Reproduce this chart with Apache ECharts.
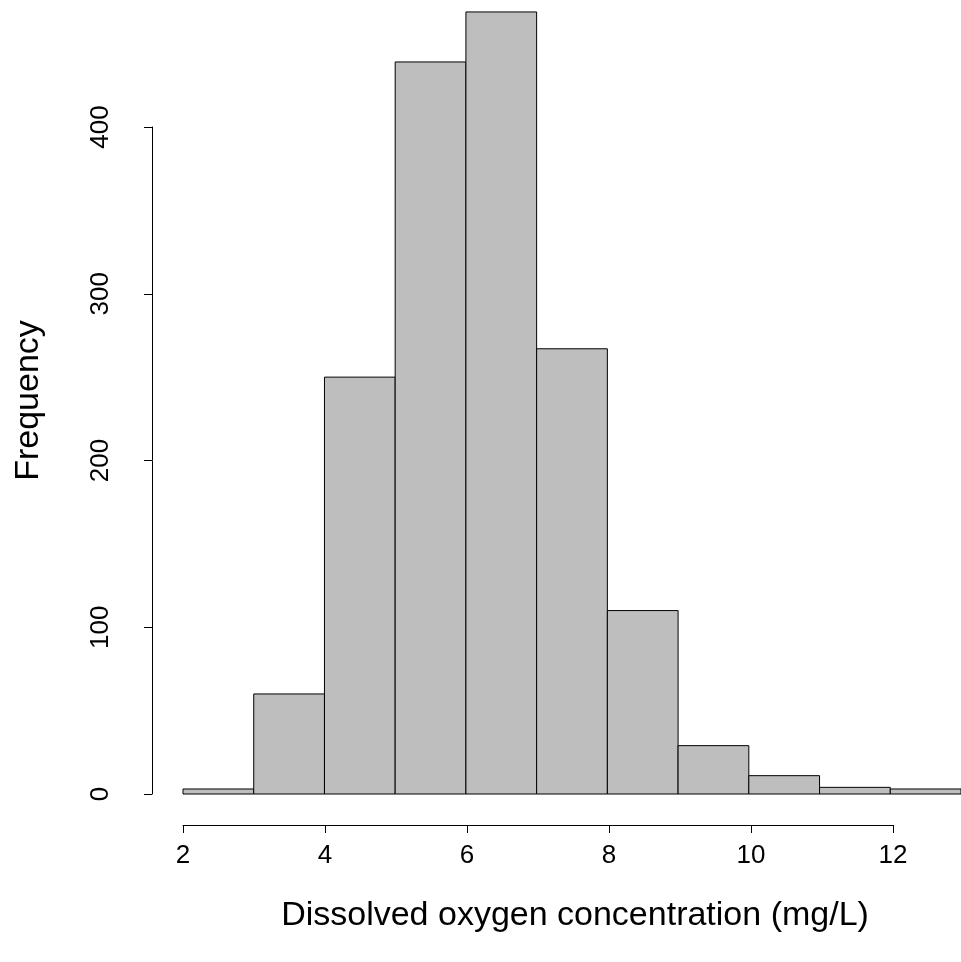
<!DOCTYPE html>
<html>
<head>
<meta charset="utf-8">
<script src="https://cdn.jsdelivr.net/npm/echarts@6/dist/echarts.min.js"></script>
<style>
  html, body { margin: 0; padding: 0; background: #fff; }
  #chart { width: 961px; height: 962px; }
</style>
</head>
<body>
<div id="chart"></div>
<script>
// histogram bins (mg/L) and counts
var binStarts = [2, 3, 4, 5, 6, 7, 8, 9, 10, 11, 12];
var binWidth = 1;
var counts = [3, 60, 250, 439, 469, 267, 110, 29, 11, 4, 3];
var yTicks = [0, 100, 200, 300, 400];
var xTicks = [2, 4, 6, 8, 10, 12];

var font = 'Liberation Sans, Arial, Helvetica, sans-serif';

var bins = binStarts.map(function (lo, i) {
  return [lo, lo + binWidth, counts[i]];
});

var chart = echarts.init(document.getElementById('chart'));

var option = {
  animation: false,
  backgroundColor: '#fff',
  grid: [
    // bars
    {left: 183, top: 127, width: 781, height: 667},
    // detached x axis, R style
    {left: 183, top: 800, width: 710, height: 25}
  ],
  xAxis: [
    {
      type: 'value', gridIndex: 0, min: 2, max: 13, show: false
    },
    {
      type: 'value', gridIndex: 1, position: 'bottom',
      min: xTicks[0], max: xTicks[xTicks.length - 1], interval: 2,
      axisLine: {show: true, lineStyle: {color: '#000', width: 1}},
      axisTick: {show: true, length: 8, lineStyle: {color: '#000', width: 1}},
      axisLabel: {color: '#000', fontSize: 26, fontFamily: font, margin: 18},
      splitLine: {show: false},
      name: 'Dissolved oxygen concentration (mg/L)',
      nameLocation: 'middle',
      nameGap: 74,
      // R centres the label on the whole plot region, not the axis line
      nameTextStyle: {color: '#000', fontSize: 34, fontFamily: font, padding: [0, 0, 0, 74]}
    }
  ],
  yAxis: [
    {
      type: 'value', gridIndex: 0, min: yTicks[0], max: yTicks[yTicks.length - 1], interval: 100,
      offset: 31,
      axisLine: {show: true, lineStyle: {color: '#000', width: 1}},
      axisTick: {show: true, length: 8, lineStyle: {color: '#000', width: 1}},
      axisLabel: {color: '#000', fontSize: 26, fontFamily: font, rotate: 90, margin: 38},
      splitLine: {show: false},
      name: 'Frequency',
      nameLocation: 'middle',
      nameGap: 106,
      nameRotate: 90,
      nameTextStyle: {color: '#000', fontSize: 34, fontFamily: font, padding: [0, 0, 0, 120]}
    },
    {
      type: 'value', gridIndex: 1, show: false
    }
  ],
  series: [
    {
      type: 'custom',
      xAxisIndex: 0,
      yAxisIndex: 0,
      clip: false,
      data: bins,
      renderItem: function (params, api) {
        var topLeft = api.coord([api.value(0), api.value(2)]);
        var bottomRight = api.coord([api.value(1), 0]);
        return {
          type: 'rect',
          shape: {
            x: topLeft[0],
            y: topLeft[1],
            width: bottomRight[0] - topLeft[0],
            height: bottomRight[1] - topLeft[1]
          },
          style: {fill: '#bebebe', stroke: '#000', lineWidth: 1}
        };
      }
    }
  ]
};

chart.setOption(option);
</script>
</body>
</html>
